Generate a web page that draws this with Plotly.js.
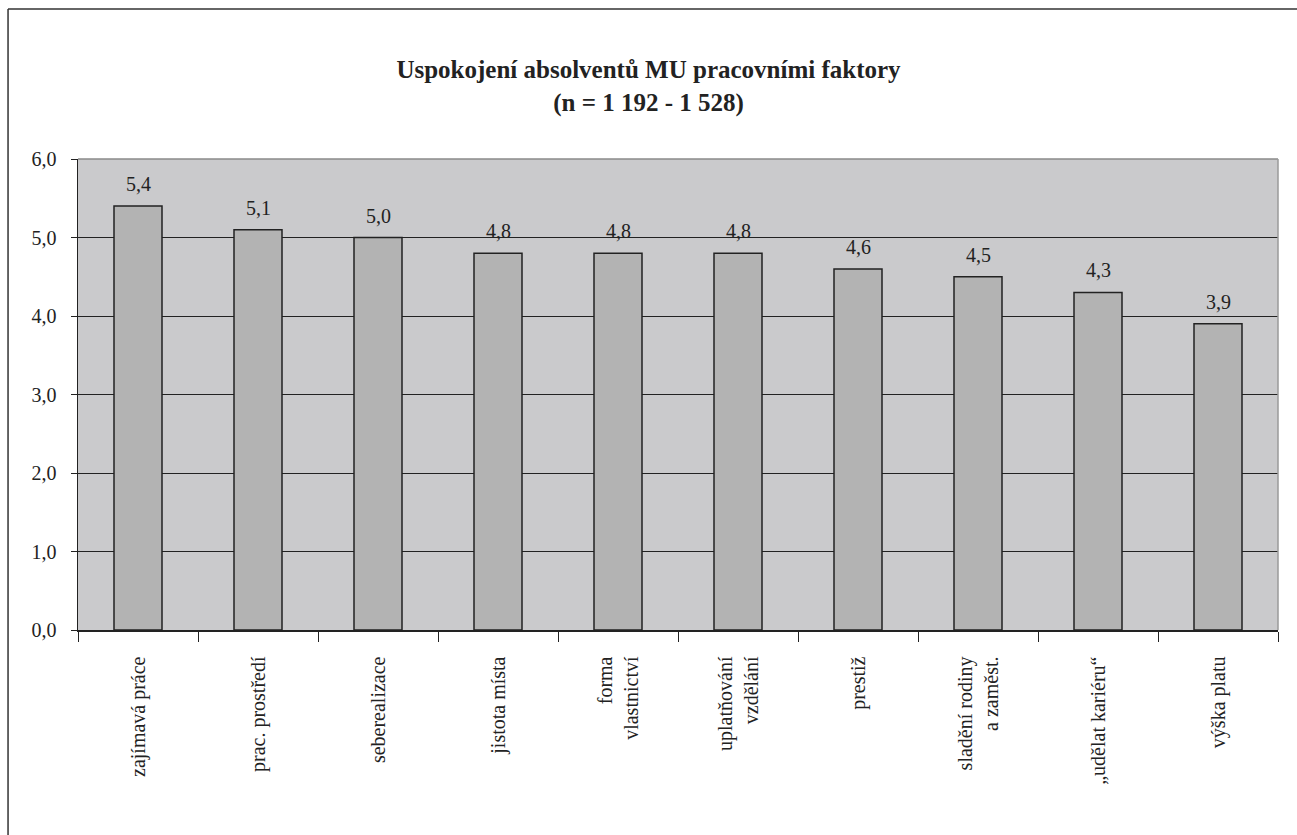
<!DOCTYPE html>
<html>
<head>
<meta charset="utf-8">
<script src="https://cdn.plot.ly/plotly-3.0.1.min.js"></script>
<style>html,body{margin:0;padding:0;background:#fff;}#chart{width:1297px;height:835px;}</style>
</head>
<body>
<div id="chart"></div>
<script>
const categories = ["zajímavá práce", "prac. prostředí", "seberealizace", "jistota místa", "forma<br>vlastnictví", "uplatňování<br>vzdělání", "prestiž", "sladění rodiny<br>a zaměst.", "„udělat kariéru“", "výška platu"];
const values = [5.4, 5.1, 5.0, 4.8, 4.8, 4.8, 4.6, 4.5, 4.3, 3.9];
const yTicks = [0, 1, 2, 3, 4, 5, 6];

const FONT = "'Liberation Serif', 'DejaVu Serif', serif";

const trace = {
  type: 'bar',
  x: categories,
  y: values,
  marker: {color: '#b3b3b3', line: {color: '#222222', width: 1.5}},
  hoverinfo: 'none'
};

const valueLabels = categories.map((c, i) => ({
  x: c, y: values[i], xref: 'x', yref: 'y',
  text: values[i].toFixed(1).replace('.', ','),
  showarrow: false, yanchor: 'bottom', yshift: 9,
  font: {family: FONT, size: 20, color: '#222'}
}));

const layout = {
  width: 1297, height: 835,
  margin: {l: 78, r: 19, t: 159, b: 205},
  paper_bgcolor: '#ffffff',
  plot_bgcolor: '#cacacc',
  separators: ', ',
  bargap: 0.6,
  showlegend: false,
  font: {family: FONT, color: '#222'},
  title: {
    text: '<b>Uspokojení absolventů MU pracovními faktory<br>(n = 1 192 - 1 528)</b>',
    font: {family: FONT, size: 25, color: '#222'},
    x: 0.5, xref: 'container', xanchor: 'center',
    y: 0.906, yref: 'container', yanchor: 'top'
  },
  xaxis: {
    type: 'category',
    tickangle: -90,
    tickson: 'boundaries',
    ticks: 'outside', ticklen: 10, tickcolor: '#222', tickwidth: 1,
    ticklabelstandoff: 17,
    showline: true, linecolor: '#222', linewidth: 1.5,
    showgrid: false,
    tickfont: {family: FONT, size: 20, color: '#222'}
  },
  yaxis: {
    range: [0, 6],
    tickvals: yTicks,
    tickformat: '.1f',
    ticks: 'outside', ticklen: 6, tickcolor: '#222', tickwidth: 1,
    ticklabelstandoff: 10,
    showline: true, linecolor: '#222', linewidth: 1.5,
    showgrid: true, gridcolor: '#222', gridwidth: 1,
    zeroline: false,
    tickfont: {family: FONT, size: 20, color: '#222'}
  },
  annotations: valueLabels,
  shapes: [
    {type: 'line', xref: 'paper', yref: 'paper', x0: 0, x1: 1, y0: 1, y1: 1, line: {color: '#8a8a8a', width: 1.5}},
    {type: 'line', xref: 'paper', yref: 'paper', x0: 1, x1: 1, y0: 0, y1: 1, line: {color: '#9a9a9a', width: 1.5}},
    {type: 'line', xref: 'paper', yref: 'paper', x0: -0.0583, x1: -0.0583, y0: -0.5, y1: 1.3185, line: {color: '#333', width: 1.5}},
    {type: 'line', xref: 'paper', yref: 'paper', x0: -0.0583, x1: 1.1, y0: 1.3185, y1: 1.3185, line: {color: '#333', width: 1.5}}
  ]
};

Plotly.newPlot('chart', [trace], layout, {displayModeBar: false, staticPlot: true});
</script>
</body>
</html>
